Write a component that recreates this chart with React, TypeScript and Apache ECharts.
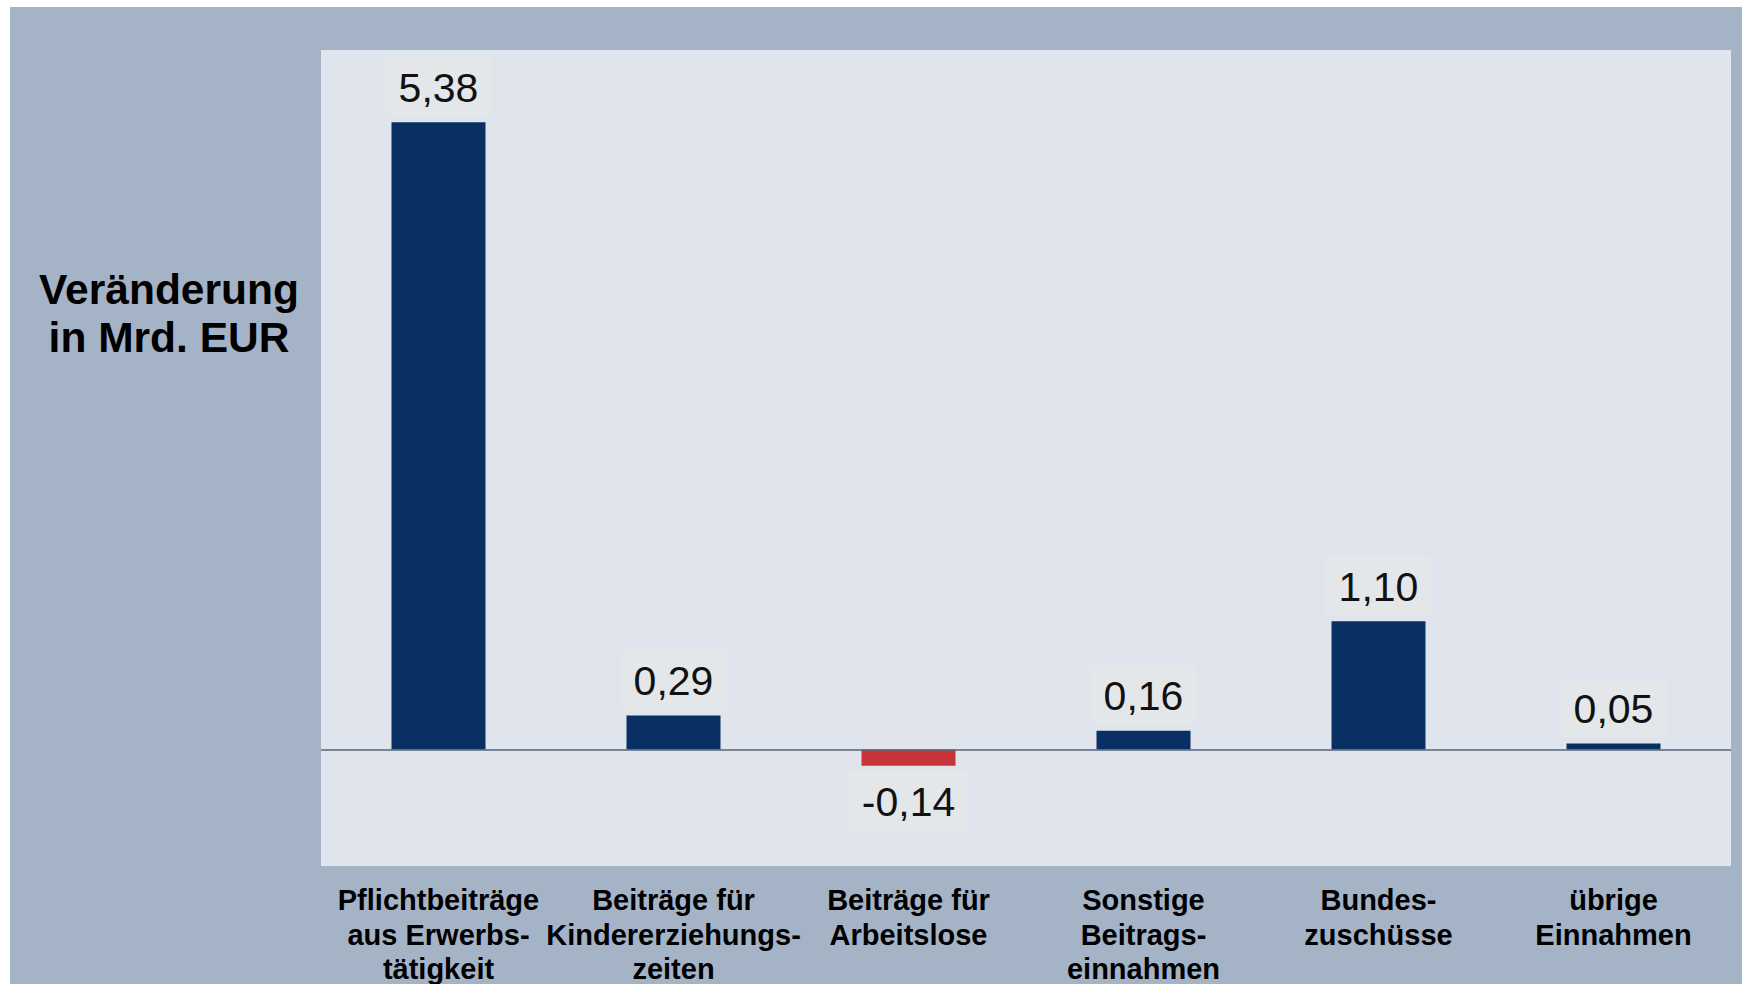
import React, { useEffect, useRef } from "react";
import * as echarts from "echarts";

const categories: string[] = [
  "Pflichtbeiträge\naus Erwerbs-\ntätigkeit",
  "Beiträge für\nKindererziehungs-\nzeiten",
  "Beiträge für\nArbeitslose",
  "Sonstige\nBeitrags-\neinnahmen",
  "Bundes-\nzuschüsse",
  "übrige\nEinnahmen",
];
const values: number[] = [5.38, 0.29, -0.14, 0.16, 1.1, 0.05];
const yTitle = "Veränderung\nin Mrd. EUR";

const POS_COLOR = "#083062";
const NEG_COLOR = "#c9333a";
const FONT = "'Liberation Sans', Arial, Helvetica, sans-serif";

export default function App() {
  const ref = useRef<HTMLDivElement>(null);
  useEffect(() => {
    if (!ref.current) return;
    const chart = echarts.init(ref.current, undefined, { renderer: "svg" });
    const fmt = (v: number) => v.toFixed(2).replace(".", ",");
    chart.setOption({
      animation: false,
      backgroundColor: "#a5b3c7",
      textStyle: { fontFamily: FONT },
      grid: {
        left: 311,
        right: 11,
        top: 43,
        bottom: 118,
        outerBoundsMode: "none",
        containLabel: false,
        show: true,
        backgroundColor: "#e0e5ed",
        borderWidth: 0,
      },
      xAxis: {
        type: "category",
        data: categories,
        axisLine: { show: false, onZero: false },
        axisTick: { show: false },
        splitLine: { show: false },
        axisLabel: {
          interval: 0,
          margin: 17,
          fontFamily: FONT,
          fontSize: 29,
          fontWeight: "bold",
          lineHeight: 34.5,
          color: "#000",
          align: "center",
        },
      },
      yAxis: {
        type: "value",
        min: -1,
        max: 6,
        show: false,
        splitLine: { show: false },
      },
      graphic: [
        {
          type: "text",
          x: 159,
          y: 306,
          style: {
            text: yTitle,
            fontFamily: FONT,
            fontSize: 42.5,
            fontWeight: "bold",
            lineHeight: 48,
            fill: "#000",
            align: "center",
            verticalAlign: "middle",
          },
        },
      ],
      series: [
        {
          type: "bar",
          barWidth: "40%",
          data: values.map((v) => ({
            value: v,
            itemStyle: { color: v < 0 ? NEG_COLOR : POS_COLOR },
            label: v < 0 ? { position: "bottom", distance: 6 } : { position: "top", distance: 6 },
          })),
          label: {
            show: true,
            formatter: (p: any) => fmt(p.value),
            fontFamily: FONT,
            fontSize: 41,
            color: "#111",
            backgroundColor: "#e3e7ea",
            padding: [10, 13, 8, 13],
          },
          markLine: {
            silent: true,
            symbol: "none",
            label: { show: false },
            lineStyle: { color: "#56657a", width: 1.5, type: "solid" },
            data: [{ yAxis: 0 }],
          },
        },
      ],
    });
    return () => chart.dispose();
  }, []);
  return (
    <div
      ref={ref}
      style={{ position: "fixed", left: 10, top: 7, width: 1732, height: 977 }}
    />
  );
}
